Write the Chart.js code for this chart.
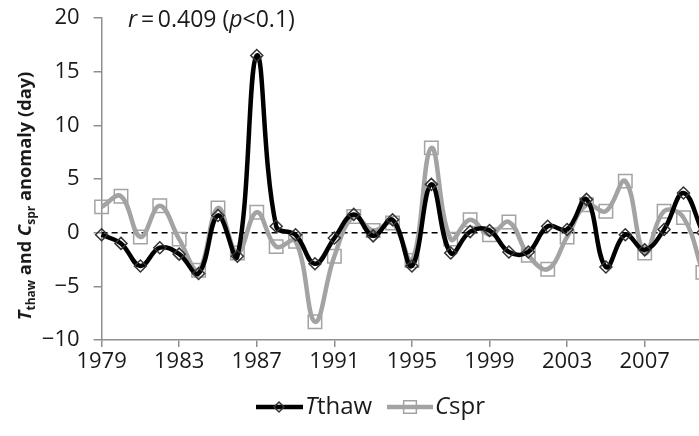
<!DOCTYPE html>
<html><head><meta charset="utf-8">
<script src="https://cdn.jsdelivr.net/npm/chart.js@4.4.0/dist/chart.umd.min.js"></script>
<style>html,body{margin:0;padding:0;background:#fff;overflow:hidden}#wrap{width:699px;height:436px;position:relative}</style>
</head><body><div id="wrap"><canvas id="c" width="699" height="436"></canvas></div>
<script>
const years = [1979,1980,1981,1982,1983,1984,1985,1986,1987,1988,1989,1990,1991,1992,1993,1994,1995,1996,1997,1998,1999,2000,2001,2002,2003,2004,2005,2006,2007,2008,2009,2010];
const tthaw = [-0.2,-1.0,-3.1,-1.4,-2.0,-3.8,1.6,-2.2,16.5,0.6,-0.2,-2.9,-0.5,1.7,-0.3,1.2,-3.1,4.5,-1.9,0.1,0.2,-1.8,-1.8,0.6,0.3,3.1,-3.2,-0.2,-1.6,0.3,3.7,0.0];
const cspr = [2.4,3.4,-0.4,2.5,-0.6,-3.5,2.3,-1.9,1.9,-1.3,-0.8,-8.3,-2.2,1.5,0.2,0.9,-2.6,7.9,-0.6,1.2,-0.2,1.0,-2.1,-3.4,-0.4,2.6,2.0,4.8,-1.9,2.0,1.4,-3.7];
const xTickYears = [1979,1983,1987,1991,1995,1999,2003,2007];
const yTickValues = [-10,-5,0,5,10,15,20];
const seriesNames = ['Tthaw','Cspr'];
const annotationText = [['r','i'],['\u2009=\u20090.409 (','n'],['p','i'],['<0.1)','n']];
const yTitleParts = [['T','i'],['thaw','s'],[' and ','n'],['C','i'],['spr','s'],[' anomaly (day)','n']];

const FONT = "'Open Sans', sans-serif";
const TEXT = '#1a1a1a';
const AXIS = '#8f8f8f';
const BLACK = '#000000';
const GRAY = '#a3a3a3';

function pts(vals){ return years.map((y,i)=>({x:y,y:vals[i]})); }

function fontFor(k, size, bold){
  const w = bold ? 'bold ' : '';
  if (k==='i') return 'italic '+w+size+'px '+FONT;
  if (k==='s') return w+Math.round(size*0.68)+'px '+FONT;
  return w+size+'px '+FONT;
}
function drawParts(ctx, parts, x, y, size, bold){
  let cx = x;
  for (const [t,k] of parts){
    ctx.font = fontFor(k,size,bold);
    ctx.fillText(t, cx, k==='s' ? y+size*0.3 : y);
    cx += ctx.measureText(t).width;
  }
  return cx - x;
}
function measureParts(ctx, parts, size, bold){
  let w0=0;
  for (const [t,k] of parts){ ctx.font = fontFor(k,size,bold); w0 += ctx.measureText(t).width; }
  return w0;
}

const extras = {
  id:'extras',
  beforeDatasetsDraw(chart){
    const {ctx, chartArea, scales} = chart;
    const y0 = scales.y.getPixelForValue(0);
    ctx.save();
    ctx.strokeStyle = '#000'; ctx.lineWidth = 1.5; ctx.setLineDash([6,4]);
    ctx.beginPath(); ctx.moveTo(chartArea.left, y0); ctx.lineTo(chartArea.right, y0); ctx.stroke();
    ctx.restore();
  },
  afterDraw(chart){
    const {ctx} = chart;
    ctx.save();
    ctx.fillStyle = TEXT; ctx.textBaseline = 'middle'; ctx.textAlign = 'left';
    // annotation
    drawParts(ctx, annotationText, 128, 20, 23, false);
    // y title
    ctx.save();
    ctx.translate(28, 196); ctx.rotate(-Math.PI/2);
    let size = 20;
    const target = 252;
    let w = measureParts(ctx, yTitleParts, size, true);
    size = size * target / w;
    w = measureParts(ctx, yTitleParts, size, true);
    drawParts(ctx, yTitleParts, -w/2, -2, size, true);
    ctx.restore();
    // legend
    const ly = 407;
    const items = [
      {x0:256, x1:303, px:279, color:BLACK, lw:4.5, style:'rectRot', r:5, pc:'#333', tx:305, name:[['T','i'],['thaw','n']]},
      {x0:387, x1:433, px:410, color:GRAY, lw:4.5, style:'rect', r:9, pc:GRAY, tx:435, name:[['C','i'],['spr','n']]}
    ];
    for (const it of items){
      ctx.strokeStyle = it.color; ctx.lineWidth = it.lw; ctx.setLineDash([]);
      ctx.beginPath(); ctx.moveTo(it.x0, ly); ctx.lineTo(it.x1, ly); ctx.stroke();
      ctx.lineWidth = 1.5; ctx.strokeStyle = it.pc; ctx.fillStyle = 'rgba(255,255,255,0)';
      Chart.helpers.drawPoint(ctx, {pointStyle:it.style, radius:it.r, borderWidth:1.5}, it.px, ly);
      ctx.fillStyle = TEXT;
      drawParts(ctx, it.name, it.tx, ly, 24, false);
    }
    ctx.restore();
  }
};

new Chart(document.getElementById('c'), {
  type:'line',
  data:{ datasets:[
    { label:seriesNames[0], data:pts(tthaw), borderColor:BLACK, borderWidth:4.5, tension:0.4, clip:false,
      pointStyle:'rectRot', pointRadius:6, pointBorderColor:'#333', pointBorderWidth:1.5, pointBackgroundColor:'rgba(255,255,255,0)' },
    { label:seriesNames[1], data:pts(cspr), borderColor:GRAY, borderWidth:4.5, tension:0.4, clip:false,
      pointStyle:'rect', pointRadius:9.5, pointBorderColor:GRAY, pointBorderWidth:1.5, pointBackgroundColor:'rgba(255,255,255,0)' }
  ]},
  options:{
    responsive:false, animation:false, devicePixelRatio:1,
    layout:{ autoPadding:false, padding:{top:18,left:0,right:0,bottom:0} },
    plugins:{ legend:{display:false}, tooltip:{enabled:false} },
    scales:{
      x:{ type:'linear', min:1979, max:2009.8,
        afterBuildTicks(s){ s.ticks = xTickYears.map(v=>({value:v})); },
        afterFit(s){ s.height = 96; s.paddingLeft = 0; s.paddingRight = 0; },
        ticks:{ color:TEXT, font:{family:FONT,size:22}, padding:2, maxRotation:0, autoSkip:false, callback:v=>String(v) },
        grid:{ drawOnChartArea:false, tickLength:7, color:AXIS, lineWidth:1.5 },
        border:{ color:AXIS, width:1.5 } },
      y:{ min:-10, max:20,
        afterBuildTicks(s){ s.ticks = yTickValues.map(v=>({value:v})); },
        afterFit(s){ s.width = 101.6; s.paddingTop = 0; s.paddingBottom = 0; },
        ticks:{ color:TEXT, font:{family:FONT,size:22}, padding:14, callback:v=>String(v).replace('-','\u2212') },
        grid:{ drawOnChartArea:false, tickLength:8, color:AXIS, lineWidth:1.5 },
        border:{ color:AXIS, width:1.5 } }
    }
  },
  plugins:[extras]
});
</script></body></html>
